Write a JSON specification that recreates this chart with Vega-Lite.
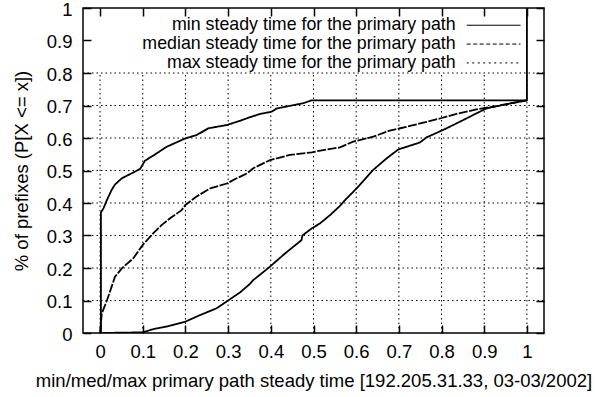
{
  "$schema": "https://vega.github.io/schema/vega-lite/v6.json",
  "width": 461,
  "height": 325,
  "autosize": {"type": "none"},
  "padding": {"left": 83, "top": 8, "right": 51, "bottom": 64},
  "background": "#ffffff",
  "config": {
    "view": {"stroke": "#000000", "strokeWidth": 1.5},
    "font": "Liberation Sans",
    "axis": {"labelColor": "#000000", "titleColor": "#000000", "tickColor": "#000000", "domain": false, "grid": false, "labelFontSize": 18.5, "titleFontSize": 18.5, "titleFontWeight": "normal", "tickWidth": 1.5, "tickSize": 8, "offset": -8}
  },
  "datasets": {
    "xgrid": [{"g": 0}, {"g": 0.1}, {"g": 0.2}, {"g": 0.3}, {"g": 0.4}, {"g": 0.5}, {"g": 0.6}, {"g": 0.7}, {"g": 0.8}, {"g": 0.9}, {"g": 1}],
    "ygrid": [{"g": 0.1}, {"g": 0.2}, {"g": 0.3}, {"g": 0.4}, {"g": 0.5}, {"g": 0.6}, {"g": 0.7}, {"g": 0.8}],
    "curves": [
      {"series": "min steady time for the primary path", "i": 0, "x": 0, "y": 0},
      {"series": "min steady time for the primary path", "i": 1, "x": 0.002, "y": 0.0},
      {"series": "min steady time for the primary path", "i": 2, "x": 0.002, "y": 0.37},
      {"series": "min steady time for the primary path", "i": 3, "x": 0.004, "y": 0.375},
      {"series": "min steady time for the primary path", "i": 4, "x": 0.008, "y": 0.384},
      {"series": "min steady time for the primary path", "i": 5, "x": 0.016, "y": 0.409},
      {"series": "min steady time for the primary path", "i": 6, "x": 0.027, "y": 0.44},
      {"series": "min steady time for the primary path", "i": 7, "x": 0.035, "y": 0.457},
      {"series": "min steady time for the primary path", "i": 8, "x": 0.051, "y": 0.476},
      {"series": "min steady time for the primary path", "i": 9, "x": 0.078, "y": 0.494},
      {"series": "min steady time for the primary path", "i": 10, "x": 0.094, "y": 0.505},
      {"series": "min steady time for the primary path", "i": 11, "x": 0.105, "y": 0.53},
      {"series": "min steady time for the primary path", "i": 12, "x": 0.133, "y": 0.553},
      {"series": "min steady time for the primary path", "i": 13, "x": 0.156, "y": 0.573},
      {"series": "min steady time for the primary path", "i": 14, "x": 0.2, "y": 0.599},
      {"series": "min steady time for the primary path", "i": 15, "x": 0.226, "y": 0.609},
      {"series": "min steady time for the primary path", "i": 16, "x": 0.254, "y": 0.63},
      {"series": "min steady time for the primary path", "i": 17, "x": 0.297, "y": 0.64},
      {"series": "min steady time for the primary path", "i": 18, "x": 0.328, "y": 0.653},
      {"series": "min steady time for the primary path", "i": 19, "x": 0.351, "y": 0.664},
      {"series": "min steady time for the primary path", "i": 20, "x": 0.375, "y": 0.674},
      {"series": "min steady time for the primary path", "i": 21, "x": 0.402, "y": 0.681},
      {"series": "min steady time for the primary path", "i": 22, "x": 0.414, "y": 0.691},
      {"series": "min steady time for the primary path", "i": 23, "x": 0.476, "y": 0.707},
      {"series": "min steady time for the primary path", "i": 24, "x": 0.496, "y": 0.716},
      {"series": "min steady time for the primary path", "i": 25, "x": 1.0, "y": 0.716},
      {"series": "min steady time for the primary path", "i": 26, "x": 1.0, "y": 1.0},
      {"series": "median steady time for the primary path", "i": 0, "x": 0, "y": 0},
      {"series": "median steady time for the primary path", "i": 1, "x": 0.002, "y": 0.03},
      {"series": "median steady time for the primary path", "i": 2, "x": 0.004, "y": 0.06},
      {"series": "median steady time for the primary path", "i": 3, "x": 0.016, "y": 0.1},
      {"series": "median steady time for the primary path", "i": 4, "x": 0.027, "y": 0.142},
      {"series": "median steady time for the primary path", "i": 5, "x": 0.035, "y": 0.173},
      {"series": "median steady time for the primary path", "i": 6, "x": 0.051, "y": 0.199},
      {"series": "median steady time for the primary path", "i": 7, "x": 0.078, "y": 0.23},
      {"series": "median steady time for the primary path", "i": 8, "x": 0.1, "y": 0.271},
      {"series": "median steady time for the primary path", "i": 9, "x": 0.121, "y": 0.302},
      {"series": "median steady time for the primary path", "i": 10, "x": 0.144, "y": 0.332},
      {"series": "median steady time for the primary path", "i": 11, "x": 0.164, "y": 0.353},
      {"series": "median steady time for the primary path", "i": 12, "x": 0.191, "y": 0.378},
      {"series": "median steady time for the primary path", "i": 13, "x": 0.2, "y": 0.394},
      {"series": "median steady time for the primary path", "i": 14, "x": 0.226, "y": 0.42},
      {"series": "median steady time for the primary path", "i": 15, "x": 0.258, "y": 0.445},
      {"series": "median steady time for the primary path", "i": 16, "x": 0.297, "y": 0.46},
      {"series": "median steady time for the primary path", "i": 17, "x": 0.32, "y": 0.476},
      {"series": "median steady time for the primary path", "i": 18, "x": 0.344, "y": 0.491},
      {"series": "median steady time for the primary path", "i": 19, "x": 0.359, "y": 0.507},
      {"series": "median steady time for the primary path", "i": 20, "x": 0.398, "y": 0.532},
      {"series": "median steady time for the primary path", "i": 21, "x": 0.445, "y": 0.548},
      {"series": "median steady time for the primary path", "i": 22, "x": 0.496, "y": 0.556},
      {"series": "median steady time for the primary path", "i": 23, "x": 0.523, "y": 0.563},
      {"series": "median steady time for the primary path", "i": 24, "x": 0.562, "y": 0.571},
      {"series": "median steady time for the primary path", "i": 25, "x": 0.593, "y": 0.589},
      {"series": "median steady time for the primary path", "i": 26, "x": 0.64, "y": 0.604},
      {"series": "median steady time for the primary path", "i": 27, "x": 0.679, "y": 0.623},
      {"series": "median steady time for the primary path", "i": 28, "x": 0.703, "y": 0.63},
      {"series": "median steady time for the primary path", "i": 29, "x": 0.726, "y": 0.637},
      {"series": "median steady time for the primary path", "i": 30, "x": 0.757, "y": 0.647},
      {"series": "median steady time for the primary path", "i": 31, "x": 0.796, "y": 0.66},
      {"series": "median steady time for the primary path", "i": 32, "x": 0.835, "y": 0.674},
      {"series": "median steady time for the primary path", "i": 33, "x": 0.882, "y": 0.688},
      {"series": "median steady time for the primary path", "i": 34, "x": 0.929, "y": 0.698},
      {"series": "median steady time for the primary path", "i": 35, "x": 1.0, "y": 0.716},
      {"series": "max steady time for the primary path", "i": 0, "x": 0, "y": 0},
      {"series": "max steady time for the primary path", "i": 1, "x": 0.1, "y": 0.002},
      {"series": "max steady time for the primary path", "i": 2, "x": 0.125, "y": 0.012},
      {"series": "max steady time for the primary path", "i": 3, "x": 0.156, "y": 0.02},
      {"series": "max steady time for the primary path", "i": 4, "x": 0.2, "y": 0.035},
      {"series": "max steady time for the primary path", "i": 5, "x": 0.234, "y": 0.055},
      {"series": "max steady time for the primary path", "i": 6, "x": 0.273, "y": 0.076},
      {"series": "max steady time for the primary path", "i": 7, "x": 0.3, "y": 0.1},
      {"series": "max steady time for the primary path", "i": 8, "x": 0.328, "y": 0.125},
      {"series": "max steady time for the primary path", "i": 9, "x": 0.351, "y": 0.151},
      {"series": "max steady time for the primary path", "i": 10, "x": 0.359, "y": 0.163},
      {"series": "max steady time for the primary path", "i": 11, "x": 0.398, "y": 0.204},
      {"series": "max steady time for the primary path", "i": 12, "x": 0.429, "y": 0.24},
      {"series": "max steady time for the primary path", "i": 13, "x": 0.472, "y": 0.286},
      {"series": "max steady time for the primary path", "i": 14, "x": 0.474, "y": 0.3},
      {"series": "max steady time for the primary path", "i": 15, "x": 0.496, "y": 0.322},
      {"series": "max steady time for the primary path", "i": 16, "x": 0.515, "y": 0.337},
      {"series": "max steady time for the primary path", "i": 17, "x": 0.539, "y": 0.363},
      {"series": "max steady time for the primary path", "i": 18, "x": 0.562, "y": 0.391},
      {"series": "max steady time for the primary path", "i": 19, "x": 0.574, "y": 0.409},
      {"series": "max steady time for the primary path", "i": 20, "x": 0.601, "y": 0.445},
      {"series": "max steady time for the primary path", "i": 21, "x": 0.64, "y": 0.502},
      {"series": "max steady time for the primary path", "i": 22, "x": 0.671, "y": 0.537},
      {"series": "max steady time for the primary path", "i": 23, "x": 0.699, "y": 0.565},
      {"series": "max steady time for the primary path", "i": 24, "x": 0.749, "y": 0.586},
      {"series": "max steady time for the primary path", "i": 25, "x": 0.765, "y": 0.602},
      {"series": "max steady time for the primary path", "i": 26, "x": 0.804, "y": 0.625},
      {"series": "max steady time for the primary path", "i": 27, "x": 0.843, "y": 0.65},
      {"series": "max steady time for the primary path", "i": 28, "x": 0.882, "y": 0.676},
      {"series": "max steady time for the primary path", "i": 29, "x": 0.905, "y": 0.691},
      {"series": "max steady time for the primary path", "i": 30, "x": 0.944, "y": 0.702},
      {"series": "max steady time for the primary path", "i": 31, "x": 1.0, "y": 0.716}
    ]
  },
  "layer": [
    {
      "data": {"name": "xgrid"},
      "mark": {"type": "rule", "stroke": "#000000", "strokeWidth": 1, "strokeDash": [1.5, 3]},
      "encoding": {
        "x": {"field": "g", "type": "quantitative", "scale": {"domain": [-0.04, 1.04], "nice": false, "zero": false}, "axis": null},
        "y": {"datum": 0, "type": "quantitative", "scale": {"domain": [0, 1], "nice": false}, "axis": null},
        "y2": {"datum": 0.8}
      }
    },
    {
      "data": {"name": "ygrid"},
      "mark": {"type": "rule", "stroke": "#000000", "strokeWidth": 1, "strokeDash": [1.5, 3]},
      "encoding": {
        "y": {"field": "g", "type": "quantitative", "scale": {"domain": [0, 1], "nice": false}, "axis": null},
        "x": {"datum": -0.04, "type": "quantitative", "scale": {"domain": [-0.04, 1.04], "nice": false, "zero": false}, "axis": null},
        "x2": {"datum": 1.04}
      }
    },
    {
      "data": {"name": "curves"},
      "mark": {"type": "line", "stroke": "#000000", "strokeWidth": 1.8, "clip": true},
      "encoding": {
        "x": {"field": "x", "type": "quantitative", "scale": {"domain": [-0.04, 1.04], "nice": false, "zero": false},
          "axis": {"orient": "bottom", "values": [0, 0.1, 0.2, 0.3, 0.4, 0.5, 0.6, 0.7, 0.8, 0.9, 1], "format": "~g", "labelPadding": 9, "title": "min/med/max primary path steady time [192.205.31.33, 03-03/2002]", "titlePadding": 11}},
        "y": {"field": "y", "type": "quantitative", "scale": {"domain": [0, 1], "nice": false},
          "axis": {"orient": "left", "values": [0, 0.1, 0.2, 0.3, 0.4, 0.5, 0.6, 0.7, 0.8, 0.9, 1], "format": "~g", "labelPadding": 11, "labelOffset": 1, "title": "% of prefixes (P[X <= x])", "titlePadding": 15}},
        "detail": {"field": "series", "type": "nominal"},
        "strokeDash": {"field": "series", "type": "nominal", "scale": {"domain": ["min steady time for the primary path", "median steady time for the primary path", "max steady time for the primary path"], "range": [[1, 0], [9, 1.5], [1, 0]]}, "legend": null},
        "order": {"field": "i", "type": "quantitative"}
      }
    },
    {
      "data": {"name": "curves"},
      "mark": {"type": "line", "stroke": "#000000", "strokeWidth": 1, "opacity": 0},
      "encoding": {
        "x": {"field": "x", "type": "quantitative", "scale": {"domain": [-0.04, 1.04], "nice": false, "zero": false},
          "axis": {"orient": "top", "values": [0, 0.1, 0.2, 0.3, 0.4, 0.5, 0.6, 0.7, 0.8, 0.9, 1], "labels": false, "title": null}},
        "y": {"field": "y", "type": "quantitative", "scale": {"domain": [0, 1], "nice": false},
          "axis": {"orient": "right", "values": [0, 0.1, 0.2, 0.3, 0.4, 0.5, 0.6, 0.7, 0.8, 0.9, 1], "labels": false, "title": null}},
        "detail": {"field": "series", "type": "nominal"},
        "order": {"field": "i", "type": "quantitative"}
      }
    },
    {
      "data": {"values": [{}]},
      "mark": {"type": "text", "align": "right", "baseline": "middle", "fontSize": 17.8, "font": "Liberation Sans", "color": "#000000"},
      "encoding": {
        "x": {"datum": 0.833, "type": "quantitative", "axis": null},
        "y": {"datum": 0.947, "type": "quantitative", "axis": null},
        "text": {"value": "min steady time for the primary path"}
      }
    },
    {
      "data": {"values": [{}]},
      "mark": {"type": "text", "align": "right", "baseline": "middle", "fontSize": 17.8, "font": "Liberation Sans", "color": "#000000"},
      "encoding": {
        "x": {"datum": 0.833, "type": "quantitative", "axis": null},
        "y": {"datum": 0.889, "type": "quantitative", "axis": null},
        "text": {"value": "median steady time for the primary path"}
      }
    },
    {
      "data": {"values": [{}]},
      "mark": {"type": "text", "align": "right", "baseline": "middle", "fontSize": 17.8, "font": "Liberation Sans", "color": "#000000"},
      "encoding": {
        "x": {"datum": 0.833, "type": "quantitative", "axis": null},
        "y": {"datum": 0.831, "type": "quantitative", "axis": null},
        "text": {"value": "max steady time for the primary path"}
      }
    },
    {
      "data": {"values": [{}]},
      "mark": {"type": "rule", "stroke": "#000000", "strokeWidth": 1},
      "encoding": {
        "x": {"datum": 0.859, "type": "quantitative", "axis": null},
        "x2": {"datum": 0.985},
        "y": {"datum": 0.947, "type": "quantitative", "axis": null}
      }
    },
    {
      "data": {"values": [{}]},
      "mark": {"type": "rule", "stroke": "#000000", "strokeWidth": 1, "strokeDash": [4, 2.5]},
      "encoding": {
        "x": {"datum": 0.859, "type": "quantitative", "axis": null},
        "x2": {"datum": 0.985},
        "y": {"datum": 0.889, "type": "quantitative", "axis": null}
      }
    },
    {
      "data": {"values": [{}]},
      "mark": {"type": "rule", "stroke": "#000000", "strokeWidth": 1, "strokeDash": [2, 3.5]},
      "encoding": {
        "x": {"datum": 0.859, "type": "quantitative", "axis": null},
        "x2": {"datum": 0.985},
        "y": {"datum": 0.831, "type": "quantitative", "axis": null}
      }
    }
  ],
  "resolve": {"scale": {"strokeDash": "independent"}, "axis": {"x": "independent", "y": "independent"}}
}
